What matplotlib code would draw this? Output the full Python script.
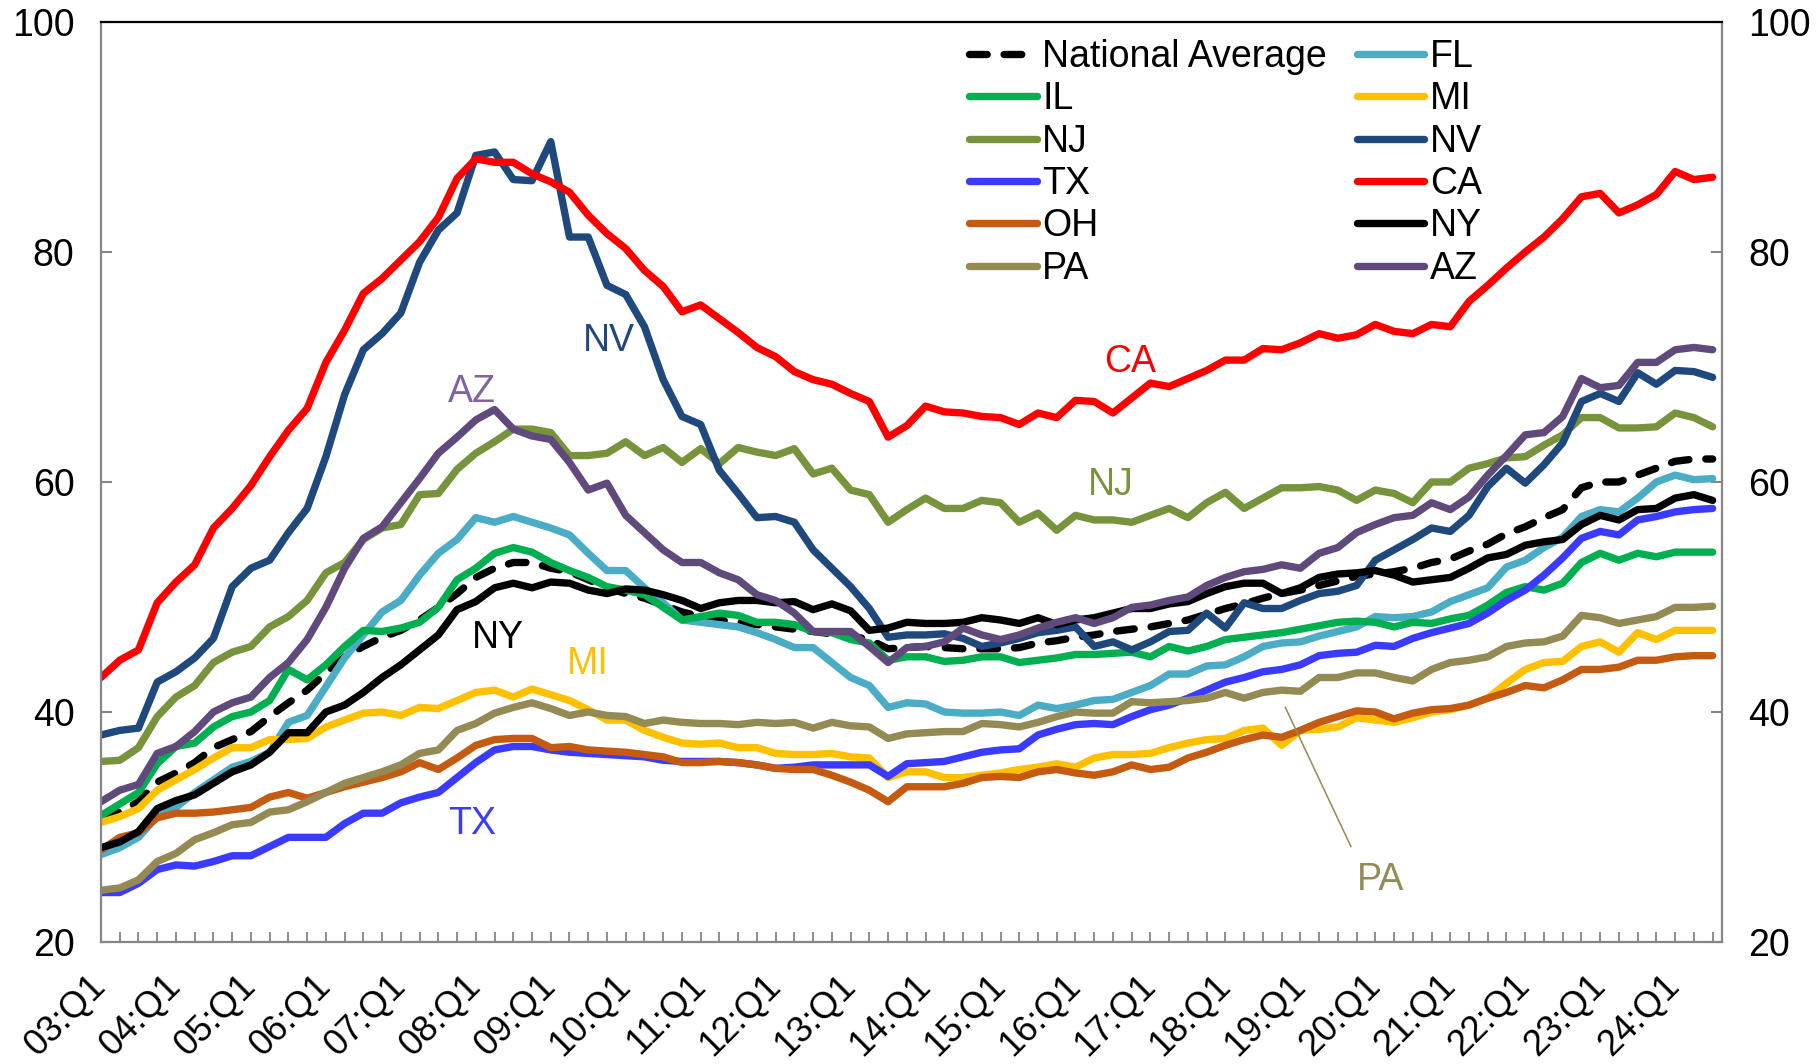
import numpy as np
import matplotlib
matplotlib.use('Agg')
import matplotlib.pyplot as plt
import matplotlib.transforms as mtransforms

plt.rcParams['font.family'] = ['Liberation Sans', 'DejaVu Sans']

quarters = [f"{y:02d}:Q{q}" for y in range(3, 25) for q in range(1, 5)][:87]
tick_labels = quarters[::4]

national_avg = [31.0,31.3,32.2,33.9,34.7,35.6,36.9,37.6,38.3,39.6,
40.8,41.9,43.4,44.8,45.7,46.5,47.1,48.0,49.1,50.3,
51.7,52.5,53.0,53.0,52.5,52.2,51.5,50.8,50.3,49.9,
49.3,48.7,48.3,48.0,47.8,47.6,47.4,47.2,47.0,46.8,
46.6,46.3,45.5,45.6,45.7,45.6,45.5,45.5,45.5,45.6,
46.0,46.2,46.5,46.7,47.0,47.2,47.4,47.7,48.0,48.5,
49.0,49.4,49.9,50.3,50.6,51.0,51.4,51.8,52.0,52.2,
52.5,53.0,53.3,54.0,54.6,55.5,56.1,56.9,57.6,59.5,
60.0,60.0,60.6,61.2,61.8,62.0,62.0]

FL = [27.6,28.2,29.1,30.9,31.7,33.0,34.1,35.2,35.7,36.5,
39.1,39.7,42.2,44.7,46.7,48.7,49.7,51.9,53.8,55.0,
56.9,56.5,57.0,56.5,56.0,55.4,53.8,52.3,52.3,50.8,
49.5,48.0,47.8,47.6,47.4,46.9,46.3,45.6,45.6,44.3,
43.0,42.3,40.4,40.8,40.7,40.0,39.9,39.9,40.0,39.7,
40.6,40.3,40.6,41.0,41.1,41.7,42.3,43.3,43.3,44.0,
44.1,44.8,45.7,46.0,46.1,46.6,47.0,47.4,48.3,48.2,
48.3,48.7,49.6,50.2,50.8,52.6,53.2,54.3,55.2,57.0,
57.6,57.4,58.6,60.0,60.6,60.2,60.3]

IL = [31.0,32.0,33.0,35.5,37.0,37.3,38.7,39.6,40.0,41.0,
43.7,42.8,44.1,45.7,47.1,47.0,47.3,47.8,49.1,51.5,
52.5,53.8,54.3,53.9,53.0,52.3,51.7,50.9,50.6,50.2,
49.1,48.0,48.3,48.6,48.4,47.8,47.8,47.6,47.0,46.9,
46.3,46.0,44.5,44.8,44.8,44.4,44.5,44.8,44.8,44.3,
44.5,44.7,45.0,45.0,45.1,45.2,44.8,45.7,45.3,45.7,
46.3,46.5,46.7,46.9,47.2,47.5,47.8,47.9,47.8,47.4,
47.8,47.7,48.1,48.4,49.3,50.4,50.9,50.6,51.2,53.0,
53.8,53.2,53.8,53.5,53.9,53.9,53.9]

MI = [30.4,30.9,31.6,33.2,34.1,35.0,36.0,36.9,36.9,37.6,
37.6,37.7,38.7,39.3,39.9,40.0,39.7,40.4,40.3,41.0,
41.7,41.9,41.3,42.0,41.5,41.0,40.2,39.3,39.3,38.4,
37.8,37.3,37.2,37.3,36.9,36.9,36.4,36.3,36.3,36.4,
36.1,36.0,34.3,34.8,34.8,34.3,34.3,34.5,34.7,35.0,
35.2,35.5,35.2,36.0,36.3,36.3,36.4,36.9,37.3,37.6,
37.7,38.4,38.6,37.1,38.4,38.5,38.7,39.5,39.3,39.1,
39.5,40.0,40.2,40.6,41.2,42.5,43.7,44.3,44.4,45.7,
46.1,45.2,46.9,46.3,47.1,47.1,47.1]

NJ = [35.7,35.8,36.9,39.6,41.3,42.3,44.3,45.2,45.7,47.4,
48.3,49.7,52.1,53.0,55.0,56.0,56.3,58.9,59.0,61.1,
62.5,63.5,64.6,64.6,64.3,62.3,62.3,62.5,63.5,62.3,
63.0,61.7,62.9,61.6,63.0,62.6,62.3,62.9,60.7,61.2,
59.3,58.9,56.5,57.6,58.6,57.7,57.7,58.4,58.2,56.5,
57.3,55.8,57.1,56.7,56.7,56.5,57.1,57.7,56.9,58.2,
59.1,57.7,58.6,59.5,59.5,59.6,59.3,58.4,59.3,59.0,
58.2,60.0,60.0,61.2,61.6,62.1,62.2,63.2,64.1,65.6,
65.6,64.7,64.7,64.8,66.0,65.6,64.8]

NV = [38.0,38.4,38.6,42.6,43.5,44.7,46.4,50.9,52.5,53.2,
55.6,57.7,62.2,67.6,71.5,72.9,74.7,79.1,81.9,83.4,
88.4,88.7,86.3,86.2,89.6,81.3,81.3,77.1,76.3,73.5,
68.9,65.7,65.0,61.0,59.0,56.9,57.0,56.5,54.1,52.5,
50.9,49.0,46.5,46.7,46.7,46.8,46.4,45.7,46.0,46.4,
46.9,47.1,47.4,45.7,46.1,45.4,46.1,47.0,47.1,48.6,
47.3,49.5,49.0,49.0,49.7,50.3,50.5,51.0,53.2,54.1,
55.0,56.0,55.7,57.1,59.6,61.2,59.9,61.5,63.4,67.0,
67.7,67.0,69.5,68.5,69.7,69.6,69.1]

TX = [24.3,24.3,25.1,26.3,26.7,26.6,27.0,27.5,27.5,28.3,
29.1,29.1,29.1,30.3,31.2,31.2,32.1,32.6,33.0,34.3,
35.6,36.7,37.0,37.0,36.7,36.5,36.4,36.3,36.2,36.1,
35.8,35.7,35.7,35.7,35.6,35.4,35.1,35.2,35.4,35.4,
35.4,35.4,34.4,35.5,35.6,35.7,36.1,36.5,36.7,36.8,
38.0,38.5,38.9,39.0,38.9,39.6,40.2,40.6,41.2,41.9,
42.6,43.0,43.5,43.7,44.1,44.9,45.1,45.2,45.8,45.7,
46.4,46.9,47.3,47.7,48.6,49.7,50.6,51.9,53.4,55.1,
55.7,55.4,56.7,57.0,57.4,57.6,57.7]

CA = [43.0,44.5,45.4,49.5,51.3,52.8,56.0,57.7,59.7,62.2,
64.5,66.4,70.4,73.2,76.4,77.7,79.3,80.9,83.0,86.4,
88.1,87.8,87.8,86.8,86.1,85.2,83.2,81.6,80.3,78.4,
77.0,74.8,75.4,74.2,73.0,71.7,70.9,69.6,68.9,68.5,
67.7,67.0,63.9,64.9,66.6,66.1,66.0,65.7,65.6,65.0,
66.0,65.6,67.1,67.0,66.0,67.3,68.6,68.3,69.0,69.7,
70.6,70.6,71.6,71.5,72.1,72.9,72.5,72.8,73.7,73.1,
72.9,73.7,73.5,75.7,77.1,78.6,80.0,81.3,82.9,84.8,
85.1,83.4,84.1,85.0,87.0,86.3,86.5]

OH = [28.0,29.1,29.5,30.8,31.2,31.2,31.3,31.5,31.7,32.6,
33.0,32.5,33.0,33.5,33.9,34.3,34.8,35.6,35.0,36.0,
37.1,37.6,37.7,37.7,36.9,37.0,36.7,36.6,36.5,36.3,
36.1,35.6,35.6,35.7,35.6,35.4,35.1,35.0,35.0,34.5,
33.9,33.2,32.2,33.5,33.5,33.5,33.8,34.3,34.4,34.3,
34.8,35.0,34.7,34.5,34.8,35.4,35.0,35.2,36.0,36.5,
37.1,37.6,38.0,37.8,38.4,39.1,39.6,40.1,40.0,39.4,
39.9,40.2,40.3,40.6,41.2,41.7,42.3,42.1,42.8,43.7,
43.7,43.9,44.5,44.5,44.8,44.9,44.9]

NY = [28.2,28.7,29.6,31.6,32.3,32.8,33.8,34.8,35.4,36.5,
38.2,38.2,40.0,40.6,41.7,43.0,44.1,45.4,46.7,48.9,
49.6,50.8,51.2,50.8,51.3,51.2,50.6,50.3,50.7,50.6,
50.2,49.7,49.0,49.5,49.7,49.7,49.5,49.6,48.9,49.4,
48.8,47.1,47.3,47.8,47.7,47.7,47.8,48.2,48.0,47.7,
48.2,47.6,48.0,48.2,48.6,49.0,49.0,49.4,49.6,50.3,
50.9,51.2,51.2,50.3,50.8,51.7,52.0,52.1,52.3,51.9,
51.3,51.5,51.7,52.5,53.4,53.7,54.5,54.8,55.0,56.3,
57.1,56.7,57.6,57.7,58.6,58.9,58.4]

PA = [24.5,24.7,25.4,27.0,27.7,28.9,29.5,30.2,30.4,31.3,
31.5,32.2,33.0,33.8,34.3,34.8,35.4,36.4,36.7,38.4,
39.0,39.9,40.4,40.8,40.3,39.7,40.0,39.7,39.6,39.0,
39.3,39.1,39.0,39.0,38.9,39.1,39.0,39.1,38.6,39.1,
38.8,38.7,37.7,38.1,38.2,38.3,38.3,39.0,38.9,38.7,
39.1,39.6,40.0,39.9,39.9,40.9,40.8,40.9,41.0,41.2,
41.7,41.2,41.7,41.9,41.8,43.0,43.0,43.4,43.4,43.0,
42.7,43.7,44.3,44.5,44.8,45.7,46.0,46.1,46.6,48.4,
48.2,47.7,48.0,48.3,49.1,49.1,49.2]

AZ = [32.2,33.2,33.7,36.4,37.0,38.3,40.0,40.8,41.3,43.0,
44.3,46.3,49.1,52.5,55.1,56.1,58.2,60.3,62.5,63.9,
65.4,66.3,64.6,64.0,63.7,61.7,59.3,59.9,57.1,55.6,
54.1,53.0,53.0,52.1,51.5,50.2,49.7,48.6,47.0,47.0,
47.0,45.7,44.3,45.6,45.7,46.1,47.3,46.7,46.3,46.7,
47.3,47.8,48.2,47.7,48.2,49.1,49.3,49.7,50.0,51.0,
51.7,52.2,52.4,52.8,52.5,53.8,54.3,55.6,56.3,56.9,
57.1,58.2,57.6,58.7,60.6,62.3,64.1,64.3,65.7,69.0,
68.2,68.4,70.4,70.4,71.5,71.7,71.5]

series = [
    ("National Average", national_avg, "#000000"),
    ("FL", FL, "#4BACC6"),
    ("IL", IL, "#00B050"),
    ("MI", MI, "#FFC000"),
    ("NJ", NJ, "#77933C"),
    ("NV", NV, "#1F497D"),
    ("TX", TX, "#3B3BFF"),
    ("CA", CA, "#FF0000"),
    ("OH", OH, "#C55A11"),
    ("NY", NY, "#000000"),
    ("PA", PA, "#948A54"),
    ("AZ", AZ, "#604A7B"),
]

FS = 27
W, H = 1819, 1064
fig = plt.figure(figsize=(W / 100, H / 100), dpi=100)
L, R, T, B = 101, 1722, 22, 942
ax = fig.add_axes([L / W, 1 - B / H, (R - L) / W, (B - T) / H])

LW = 5.3
handles = {}
for name, vals, col in series:
    x = np.arange(len(vals))
    if name == "National Average":
        ln, = ax.plot(x, vals, color=col, lw=LW, ls=(0, (2.4, 2.3)),
                      dash_capstyle='round', label=name)
    else:
        ln, = ax.plot(x, vals, color=col, lw=LW, solid_joinstyle='round',
                      solid_capstyle='round', label=name)
    handles[name] = ln

ax.set_xlim(0, 86.5)
ax.set_ylim(20, 100)
ax.set_yticks(np.arange(20, 101, 20))
ax.set_xticks(np.arange(0, len(quarters), 4))
ax.set_xticklabels(tick_labels, rotation=45, ha='right', va='top')
ax.set_xticks(np.arange(len(quarters)), minor=True)

gray = '#868686'
ax.tick_params(axis='y', which='major', direction='in', length=8, width=1.5,
               color=gray, labelsize=FS, pad=19, left=True, right=True,
               labelleft=True, labelright=True)
ax.tick_params(axis='x', which='both', direction='in', length=7.5, width=1.3,
               color=gray, labelsize=26, pad=19)
offset = mtransforms.ScaledTranslation(12 / 100, 0, fig.dpi_scale_trans)
for lab in ax.get_xticklabels():
    lab.set_transform(lab.get_transform() + offset)

for s in ['left', 'bottom', 'right']:
    ax.spines[s].set_color(gray)
    ax.spines[s].set_linewidth(1.6)
ax.spines['top'].set_color('black')
ax.spines['top'].set_linewidth(1.6)

order = ["National Average", "IL", "NJ", "TX", "OH", "PA",
         "FL", "MI", "NV", "CA", "NY", "AZ"]
leg = ax.legend([handles[n] for n in order], order, ncol=2, loc='upper left',
                bbox_to_anchor=(969 / W, 1 - 39 / H), bbox_transform=fig.transFigure,
                frameon=False, fontsize=FS, handlelength=1.8, handletextpad=0.15,
                labelspacing=0.17, columnspacing=0.8, borderpad=0, borderaxespad=0)

labels_txt = [
    ("NV", 27.1, 72.3, "#1F497D"),
    ("AZ", 19.8, 67.8, "#8064A2"),
    ("CA", 54.9, 70.4, "#FF0000"),
    ("NJ", 53.9, 59.7, "#77933C"),
    ("NY", 21.2, 46.4, "#000000"),
    ("MI", 26.0, 44.2, "#FFC000"),
    ("TX", 19.8, 30.3, "#3B3BFF"),
    ("PA", 68.3, 25.4, "#948A54"),
]
for s, xx, yy, c in labels_txt:
    ax.text(xx, yy, s, color=c, fontsize=FS, ha='center', va='center')
ax.plot([63.2, 66.7], [40.4, 28.3], color="#948A54", lw=1.1)

fig.savefig("out.png", dpi=100)
